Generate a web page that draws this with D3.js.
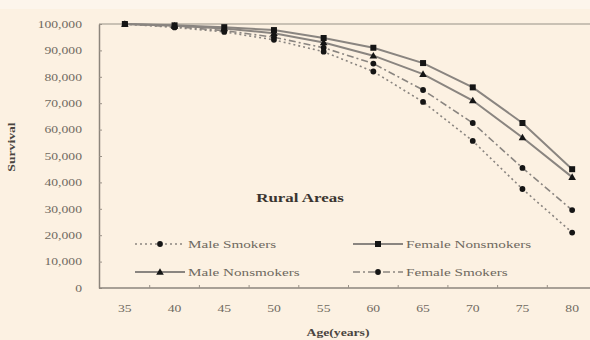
<!DOCTYPE html>
<html><head><meta charset="utf-8">
<script src="https://cdn.jsdelivr.net/npm/d3@7"></script>
<style>
html,body{margin:0;padding:0;background:#fcf1e2;}
svg{display:block;}
text{font-family:"Liberation Serif","Times New Roman",serif;}
</style></head>
<body><svg id="c" width="590" height="340"></svg>
<script>
const ages = [35,40,45,50,55,60,65,70,75,80];
const maleSmokers      = [100000,98700,97000,94000,89500,82000,70500,55700,37500,21000];
const femaleNonsmokers = [100000,99500,98800,97700,94700,91000,85200,76000,62500,45000];
const maleNonsmokers   = [100000,99300,98300,96500,93000,88000,81000,71000,57000,42000];
const femaleSmokers    = [100000,99000,97500,95000,91000,85000,75000,62500,45500,29500];
const yTicks = [0,10000,20000,30000,40000,50000,60000,70000,80000,90000,100000];
const seriesNames = ["Male Smokers","Female Nonsmokers","Male Nonsmokers","Female Smokers"];
const title = "Rural Areas";
const xTitle = "Age(years)";
const yTitle = "Survival";

const series = [
  {name:seriesNames[0], values:maleSmokers, dash:"2,3", marker:"circle", lx:135, ly:244},
  {name:seriesNames[1], values:femaleNonsmokers, dash:null, marker:"square", lx:353, ly:244},
  {name:seriesNames[2], values:maleNonsmokers, dash:null, marker:"triangle", lx:135, ly:272},
  {name:seriesNames[3], values:femaleSmokers, dash:"7,3,2,3", marker:"circle", lx:353, ly:272}
];

const svg = d3.select("#c");
svg.append("rect").attr("width",590).attr("height",340).attr("fill","#fcf1e2");
svg.append("rect").attr("width",590).attr("height",9).attr("fill","#fdf5ec");

const x = d3.scaleBand().domain(ages).range([100,597]).padding(0);
const xc = a => x(a) + x.bandwidth()/2;
const y = d3.scaleLinear().domain([0,100000]).range([288,24]);

// frame top line
svg.append("line").attr("x1",99).attr("x2",597).attr("y1",y(100000)).attr("y2",y(100000))
  .attr("stroke","#b9b0a4").attr("stroke-width",1.5);

// y axis
const ya = svg.append("g").attr("transform","translate(99,0)")
  .call(d3.axisLeft(y).tickValues(yTicks).tickFormat(d3.format(",")).tickSizeInner(-3).tickSizeOuter(0).tickPadding(17));
ya.select(".domain").attr("stroke","#8c857c").attr("stroke-width",1.5);
ya.selectAll(".tick line").attr("stroke","#9a9288");
ya.selectAll(".tick text").attr("fill","#6f6960").attr("font-size",10.5).attr("class","stretch");

// x axis
const xa = svg.append("g").attr("transform","translate(0,288)")
  .call(d3.axisBottom(x).tickSize(0).tickPadding(17));
xa.select(".domain").attr("stroke","#8c857c").attr("stroke-width",1.5).attr("d","M99,0H597");
xa.selectAll(".tick text").attr("fill","#6f6960").attr("font-size",10.5).attr("class","stretch");
svg.append("g").selectAll("line").data(ages.slice(1)).join("line")
  .attr("x1",d=>x(d)).attr("x2",d=>x(d)).attr("y1",288).attr("y2",285)
  .attr("stroke","#9a9288");

// lines
const line = d3.line().x((d,i)=>xc(ages[i])).y(d=>y(d));
function marker(g, type, cx, cy){
  if(type==="circle") g.append("circle").attr("cx",cx).attr("cy",cy).attr("r",2.9).attr("fill","#151515");
  else if(type==="square") g.append("rect").attr("x",cx-3).attr("y",cy-3).attr("width",6).attr("height",6).attr("fill","#151515");
  else g.append("path").attr("d",`M${cx},${cy-3.8}L${cx+3.8},${cy+2.8}L${cx-3.8},${cy+2.8}Z`).attr("fill","#151515");
}
series.forEach(s=>{
  svg.append("path").datum(s.values).attr("d",line).attr("fill","none")
    .attr("stroke","#8a8580").attr("stroke-width",s.dash?1.6:2)
    .attr("stroke-dasharray",s.dash);
});
series.forEach(s=>{
  const g = svg.append("g");
  s.values.forEach((v,i)=>marker(g,s.marker,xc(ages[i]),y(v)));
});

// legend
series.forEach(s=>{
  const g = svg.append("g");
  g.append("line").attr("x1",s.lx).attr("x2",s.lx+50).attr("y1",s.ly).attr("y2",s.ly)
    .attr("stroke","#8a8580").attr("stroke-width",s.dash?1.6:2).attr("stroke-dasharray",s.dash);
  marker(g,s.marker,s.lx+25,s.ly);
  g.append("text").attr("x",s.lx+53).attr("y",s.ly+4).attr("font-size",11)
    .attr("fill","#6f6960").attr("class","stretch legend").text(s.name);
});

// titles
svg.append("text").attr("x",300).attr("y",202).attr("text-anchor","middle")
  .attr("font-size",13).attr("font-weight","bold").attr("fill","#3a3530").attr("class","stretch").text(title);
svg.append("text").attr("x",338).attr("y",336).attr("text-anchor","middle")
  .attr("font-size",10.5).attr("font-weight","bold").attr("fill","#4a4540").attr("class","stretch").text(xTitle);
svg.append("text").attr("transform","translate(15,147) rotate(-90)").attr("text-anchor","middle")
  .attr("font-size",10.5).attr("font-weight","bold").attr("fill","#4a4540").attr("class","stretch").text(yTitle);

// horizontal stretch to mimic reference
svg.selectAll("text.stretch").each(function(){
  const w = this.getComputedTextLength();
  const f = this.classList.contains("legend") ? 1.38 : 1.3;
  d3.select(this).attr("textLength", w*f).attr("lengthAdjust","spacingAndGlyphs");
});
</script></body></html>
